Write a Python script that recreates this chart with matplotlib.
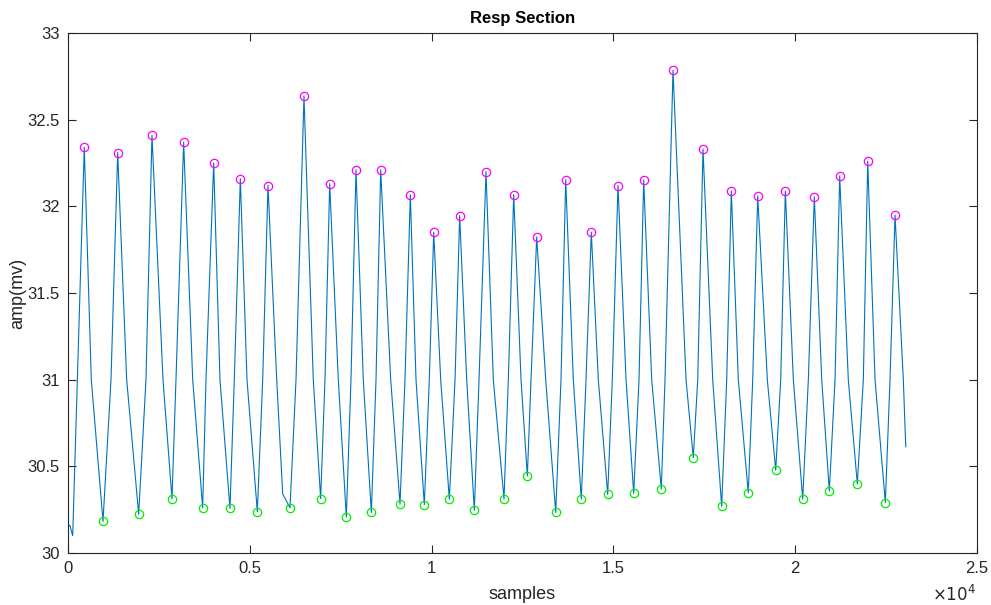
import numpy as np
import matplotlib
matplotlib.use('Agg')
import matplotlib.pyplot as plt
from matplotlib.ticker import FuncFormatter

plt.rcParams['font.family'] = ['Liberation Sans', 'DejaVu Sans']

# peaks of the respiration trace (sample index, amplitude)
peak_x = [448, 1367, 2310, 3181, 4007, 4740, 5500, 6490, 7197, 7921, 8600,
          9415, 10058, 10772, 11496, 12258, 12890, 13688, 14392, 15126, 15833,
          16639, 17464, 18243, 18968, 19728, 20525, 21223, 21994, 22745]
peak_y = [32.34, 32.31, 32.41, 32.37, 32.25, 32.16, 32.12, 32.635, 32.13, 32.21, 32.21,
          32.067, 31.85, 31.946, 32.20, 32.067, 31.823, 32.154, 31.85, 32.12, 32.152,
          32.785, 32.33, 32.088, 32.06, 32.088, 32.054, 32.175, 32.26, 31.95]

# troughs
trough_x = [963, 1944, 2860, 3704, 4455, 5207, 6106, 6949, 7655, 8343,
            9131, 9800, 10488, 11175, 11991, 12633, 13413, 14117, 14843, 15558,
            16317, 17197, 17977, 18709, 19463, 20206, 20938, 21708, 22478]
trough_y = [30.182, 30.223, 30.313, 30.261, 30.257, 30.238, 30.261, 30.313, 30.207, 30.234,
            30.282, 30.278, 30.309, 30.246, 30.311, 30.444, 30.234, 30.311, 30.338, 30.344,
            30.369, 30.549, 30.269, 30.347, 30.478, 30.311, 30.357, 30.398, 30.29]

# where each falling / rising edge passes 31.0 mV
edge_x = [641, 1183, 1614, 2145, 2613, 2970, 3430, 3795, 4180, 4574,
          4923, 5355, 5740, 6271, 6746, 7068, 7434, 7783, 8121, 8471,
          8875, 9268, 9571, 9937, 10250, 10644, 10965, 11304, 11697, 12110,
          12459, 12734, 13138, 13559, 13897, 14246, 14585, 14970, 15347, 15704,
          16053, 16419, 16997, 17319, 17731, 18116, 18435, 18831, 19233, 19601,
          19948, 20361, 20729, 21095, 21460, 21873, 22195, 22607, 22973]
edge_level = 31.0

# start of record, shoulder before the 7th trough, end of record
start_x = [0, 50, 130]
start_y = [30.155, 30.16, 30.10]
shoulder_x = [5905]
shoulder_y = [30.34]
end_x = [23040]
end_y = [30.613]

pts = list(zip(start_x, start_y)) + list(zip(peak_x, peak_y)) + list(zip(trough_x, trough_y))
pts += [(e, edge_level) for e in edge_x]
pts += list(zip(shoulder_x, shoulder_y)) + list(zip(end_x, end_y))
pts.sort()
sig_x = np.array([p[0] for p in pts])
sig_y = np.array([p[1] for p in pts])

fig = plt.figure(figsize=(9.91, 6.05), dpi=100)
ax = fig.add_axes([0.0686, 0.086, 0.9173, 0.8595])

ax.plot(sig_x, sig_y, color='#0072BD', lw=0.8)
ax.plot(peak_x, peak_y, 'o', mfc='none', mec='#FF00FF', ms=6, mew=0.9)
ax.plot(trough_x, trough_y, 'o', mfc='none', mec='#00EE00', ms=6, mew=0.9)

ax.set_xlim(0, 25000)
ax.set_ylim(30, 33)
ax.set_xticks(np.arange(0, 25001, 5000))
ax.set_yticks(np.arange(30, 33.01, 0.5))
ax.xaxis.set_major_formatter(FuncFormatter(lambda v, p: f'{v/1e4:g}'))
ax.yaxis.set_major_formatter(FuncFormatter(lambda v, p: f'{v:g}'))
ax.tick_params(direction='in', length=6, width=0.8, colors='#262626',
               labelsize=12, top=True, right=True, pad=6)
for s in ax.spines.values():
    s.set_color('#262626')
    s.set_linewidth(0.8)

ax.set_title('Resp Section', fontsize=12, fontweight='bold', color='black', pad=7)
ax.set_xlabel('samples', fontsize=13, color='#262626', labelpad=7)
ax.set_ylabel('amp(mv)', fontsize=13, color='#262626', labelpad=1)
fig.text(0.985, 0.002, r'$\times10^{4}$', ha='right', va='bottom', fontsize=12, color='#262626')

fig.savefig('out.png', dpi=100)
